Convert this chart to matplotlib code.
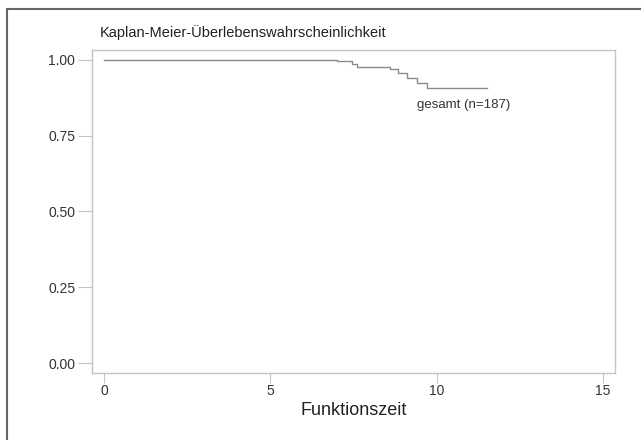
import numpy as np
import matplotlib.pyplot as plt
from matplotlib.patches import Rectangle

plt.rcParams['font.family'] = ['Liberation Sans', 'DejaVu Sans']

# Kaplan-Meier step curve
zeit = [0.0, 7.0, 7.45, 7.6, 8.6, 8.85, 9.1, 9.4, 9.7, 11.5]
surv = [1.000, 0.996, 0.988, 0.978, 0.970, 0.956, 0.940, 0.925, 0.906, 0.906]

xticks = [0, 5, 10, 15]
yticks = [0.00, 0.25, 0.50, 0.75, 1.00]
ylabels = ['0.00', '0.25', '0.50', '0.75', '1.00']

fig = plt.figure(figsize=(6.41, 4.40), dpi=100)
ax = fig.add_axes([92/641, 1-373/440, (615-92)/641, (373-50)/440])

ax.step(zeit, surv, where='post', color='#8a8a8a', lw=1.0)

ax.set_xlim(-0.36, 15.36)
ax.set_ylim(-0.033, 1.033)
ax.set_xticks(xticks)
ax.set_yticks(yticks)
ax.set_yticklabels(ylabels)

for s in ax.spines.values():
    s.set_color('#c4c4c4')
    s.set_linewidth(1.0)

ax.tick_params(axis='both', colors='#c4c4c4', labelcolor='#333333',
               labelsize=10, length=7, width=0.8)
ax.tick_params(axis='y', length=10, pad=2)
ax.tick_params(axis='x', pad=1)

ax.set_xlabel('Funktionszeit', fontsize=13, color='#222222', labelpad=3)
ax.text(9.4, 0.85, 'gesamt (n=187)', fontsize=9.5, color='#333333',
        ha='left', va='center')

fig.text(100/641, 1-33/440, 'Kaplan-Meier-Überlebenswahrscheinlichkeit',
         fontsize=10.5, color='#222222', ha='left', va='center')

# outer frame of the graph region
fig.patches.append(Rectangle((7/641, -0.1), 1.0, 1.1-9/440, transform=fig.transFigure,
                             fill=False, edgecolor='#666666', lw=1.5))

fig.savefig('out.png', dpi=100)
